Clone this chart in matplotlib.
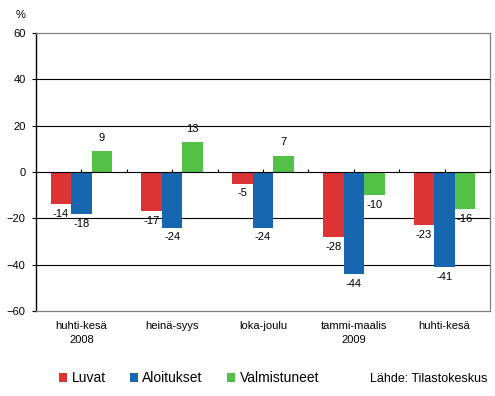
import numpy as np
import matplotlib
matplotlib.use('Agg')
import matplotlib.pyplot as plt
from matplotlib.patches import Patch

# ── Dati ─────────────────────────────────────────────────────
CATEGORIES  = ["huhti-kesä\n2008", "heinä-syys", "loka-joulu",
               "tammi-maalis\n2009", "huhti-kesä"]
LUVAT        = [-14, -17, -5, -28, -23]
ALOITUKSET   = [-18, -24, -24, -44, -41]
VALMISTUNEET = [9, 13, 7, -10, -16]
SERIES_NAMES = ["Luvat", "Aloitukset", "Valmistuneet"]
Y_TICKS      = [-60, -40, -20, 0, 20, 40, 60]
SOURCE       = "Lähde: Tilastokeskus"

# ── Stile ────────────────────────────────────────────────────
COLORS    = ["#DC3434", "#1667B0", "#53C146"]
BAR_W     = 0.226
FONT      = "Liberation Sans"
FS        = 8
FS_LEGEND = 10

plt.rcParams['font.family'] = [FONT, 'DejaVu Sans']

fig = plt.figure(figsize=(4.95, 3.96), dpi=100)
ax = fig.add_axes([36 / 495, 85 / 396, 454 / 495, 278 / 396])

x = np.arange(len(CATEGORIES))
series = [LUVAT, ALOITUKSET, VALMISTUNEET]

for i, (vals, col) in enumerate(zip(series, COLORS)):
    xs = x + (i - 1) * BAR_W
    ax.bar(xs, vals, width=BAR_W, color=col, zorder=3, linewidth=0)
    for xv, v in zip(xs, vals):
        if v >= 0:
            ax.annotate(str(v), (xv, v), xytext=(0, 6), textcoords='offset points',
                        ha='center', va='bottom', fontsize=FS, zorder=5)
        else:
            ax.annotate(str(v), (xv, v), xytext=(0, -3.5), textcoords='offset points',
                        ha='center', va='top', fontsize=FS, zorder=5)

ax.set_xlim(-0.5, len(CATEGORIES) - 0.5)
ax.set_ylim(Y_TICKS[0], Y_TICKS[-1])
ax.set_yticks(Y_TICKS)
ax.tick_params(axis='y', direction='out', length=3, width=0.8, pad=4.5,
               labelsize=FS, color='black')
ax.set_xticks(x)
ax.set_xticklabels(CATEGORIES, fontsize=FS, linespacing=1.5)
ax.tick_params(axis='x', length=0, pad=7.5)

# griglia nera (solo linee interne)
for yv in Y_TICKS[1:-1]:
    if yv != 0:
        ax.axhline(yv, color='black', lw=0.8, zorder=1)

for side in ('top', 'right', 'bottom'):
    ax.spines[side].set_color('#808080')
    ax.spines[side].set_linewidth(0.9)
ax.spines['left'].set_color('black')
ax.spines['left'].set_linewidth(1.0)

# asse dello zero con i tick ogni mezza categoria
sec = ax.secondary_xaxis(0.5)
sec.set_xticks(np.arange(0, len(CATEGORIES) - 0.5 + 0.01, 0.5))
sec.set_xticklabels([])
sec.tick_params(direction='out', length=2.5, width=0.8, color='black')
sec.spines['bottom'].set_color('black')
sec.spines['bottom'].set_linewidth(1.0)
sec.set_zorder(4)

fig.text(20.5 / 495, 1 - 15 / 396, "%", ha='center', va='center', fontsize=FS)

handles = [Patch(facecolor=c, edgecolor='none') for c in COLORS]
fig.legend(handles, SERIES_NAMES, loc='center left',
           bbox_to_anchor=(59 / 495, 1 - 378 / 396), ncol=3, frameon=False,
           fontsize=FS_LEGEND, handlelength=0.6, handleheight=0.6,
           handletextpad=0.3, columnspacing=1.75, borderpad=0, borderaxespad=0)

fig.text(487 / 495, 1 - 379 / 396, SOURCE, ha='right', va='center',
         fontsize=9)

fig.savefig("out.png", dpi=100)
